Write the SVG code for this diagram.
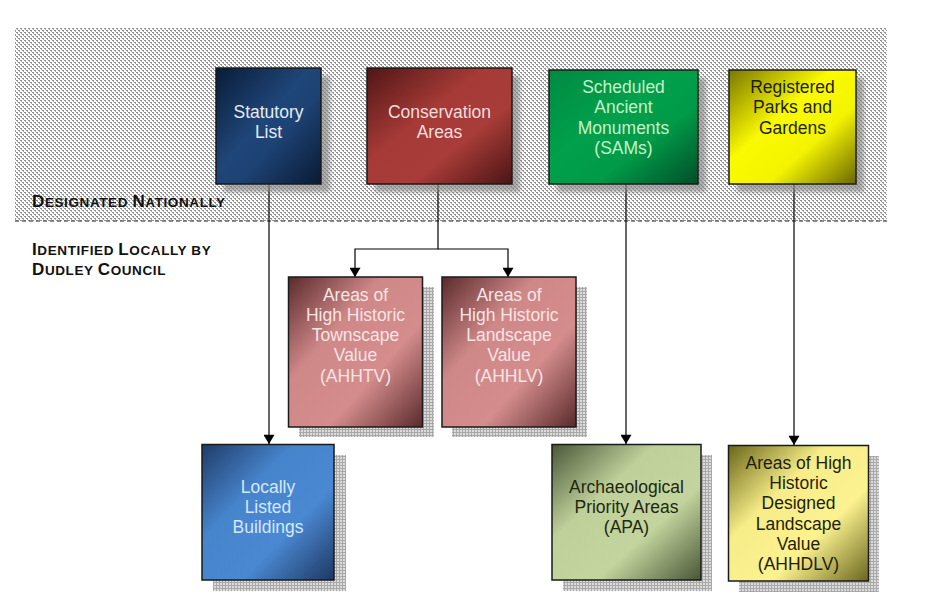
<svg xmlns="http://www.w3.org/2000/svg" width="940" height="612" viewBox="0 0 940 612">
<defs>
<style>
.lbl{font-family:"Liberation Sans",Arial,sans-serif;font-weight:bold;fill:#111;letter-spacing:0.6px}
.nt{font-family:"Liberation Sans",Arial,sans-serif;font-size:17.5px;text-anchor:middle}
.box{stroke:#1a1a1a;stroke-width:1.5}
.sh1{fill:#8a8a8a;opacity:0.7;filter:url(#blur)}
.sh2{fill:url(#grid)}
.conn{fill:none;stroke:#000;stroke-width:1.2}
</style>
<pattern id="dots" width="4" height="4" patternUnits="userSpaceOnUse">
<rect width="4" height="4" fill="#fff"/>
<rect x="0" y="0" width="2" height="1" fill="#8e8e8e"/>
<rect x="1" y="1" width="1" height="1" fill="#a4a4a4"/>
<rect x="2" y="2" width="2" height="1" fill="#8e8e8e"/>
<rect x="3" y="3" width="1" height="1" fill="#a4a4a4"/>
</pattern>
<pattern id="grid" width="3" height="3" patternUnits="userSpaceOnUse">
<rect width="3" height="3" fill="#dcdcdc"/>
<rect x="0" y="0" width="3" height="1" fill="#a8a8a8"/>
<rect x="0" y="0" width="1" height="3" fill="#a8a8a8"/>
</pattern>
<filter id="blur" x="-10%" y="-10%" width="120%" height="120%"><feGaussianBlur stdDeviation="2"/></filter>
<linearGradient id="gStat" x1="0" y1="0" x2="1" y2="1"><stop offset="0" stop-color="#0a1c38"/><stop offset="0.45" stop-color="#1f4679"/><stop offset="0.6" stop-color="#1d4274"/><stop offset="1" stop-color="#0a1a34"/></linearGradient>
<linearGradient id="gCons" x1="0" y1="0" x2="1" y2="1"><stop offset="0" stop-color="#501616"/><stop offset="0.4" stop-color="#a53a36"/><stop offset="0.65" stop-color="#a83c38"/><stop offset="1" stop-color="#4a1414"/></linearGradient>
<linearGradient id="gSam" x1="0" y1="0" x2="1" y2="1"><stop offset="0" stop-color="#008a42"/><stop offset="0.4" stop-color="#00a04c"/><stop offset="0.65" stop-color="#009a48"/><stop offset="1" stop-color="#004e28"/></linearGradient>
<linearGradient id="gReg" x1="0" y1="0" x2="1" y2="1"><stop offset="0" stop-color="#7a7800"/><stop offset="0.4" stop-color="#fafa00"/><stop offset="0.65" stop-color="#f4f400"/><stop offset="1" stop-color="#6a6800"/></linearGradient>
<linearGradient id="gPink" x1="0" y1="0" x2="1" y2="1"><stop offset="0" stop-color="#5a2a2c"/><stop offset="0.35" stop-color="#cf8888"/><stop offset="0.65" stop-color="#d48c8c"/><stop offset="1" stop-color="#5a2a2c"/></linearGradient>
<linearGradient id="gBlue" x1="0" y1="0" x2="1" y2="1"><stop offset="0" stop-color="#1f3c68"/><stop offset="0.35" stop-color="#4684cc"/><stop offset="0.65" stop-color="#4a88d2"/><stop offset="1" stop-color="#1e3862"/></linearGradient>
<linearGradient id="gApa" x1="0" y1="0" x2="1" y2="1"><stop offset="0" stop-color="#4a5838"/><stop offset="0.35" stop-color="#c0d09a"/><stop offset="0.65" stop-color="#c4d49e"/><stop offset="1" stop-color="#485636"/></linearGradient>
<linearGradient id="gYel" x1="0" y1="0" x2="1" y2="1"><stop offset="0" stop-color="#6a6618"/><stop offset="0.35" stop-color="#f6ec88"/><stop offset="0.65" stop-color="#fcf290"/><stop offset="1" stop-color="#6a661e"/></linearGradient>
<marker id="arr" viewBox="0 0 10 12" refX="10" refY="6" markerWidth="12" markerHeight="11" markerUnits="userSpaceOnUse" orient="auto"><path d="M0,0 L10,6 L0,12 z" fill="#000"/></marker>
</defs>

<g id="band">
<rect x="15" y="28" width="872" height="193" fill="url(#dots)"/>
<line x1="15" y1="221" x2="887" y2="221" stroke="#666" stroke-width="1.5" stroke-dasharray="4,3"/>
</g>

<g id="labels">
<text class="lbl" x="32" y="207"><tspan font-size="17">D</tspan><tspan font-size="13.5">ESIGNATED </tspan><tspan font-size="17">N</tspan><tspan font-size="13.5">ATIONALLY</tspan></text>
<text class="lbl" x="32" y="255"><tspan font-size="17">I</tspan><tspan font-size="13.5">DENTIFIED </tspan><tspan font-size="17">L</tspan><tspan font-size="13.5">OCALLY BY</tspan></text>
<text class="lbl" x="32" y="275"><tspan font-size="17">D</tspan><tspan font-size="13.5">UDLEY </tspan><tspan font-size="17">C</tspan><tspan font-size="13.5">OUNCIL</tspan></text>
</g>

<g id="connectors">
<line class="conn" x1="269" y1="184" x2="269" y2="444" marker-end="url(#arr)"/>
<polyline class="conn" points="438,184 438,249 355,249 355,277" marker-end="url(#arr)"/>
<polyline class="conn" points="438,249 508,249 508,277" marker-end="url(#arr)"/>
<line class="conn" x1="626" y1="184" x2="626" y2="444" marker-end="url(#arr)"/>
<line class="conn" x1="794" y1="184" x2="794" y2="445" marker-end="url(#arr)"/>
</g>

<g id="statutory-list">
<rect class="sh1" x="224" y="76" width="106" height="116"/>
<rect class="box" x="216" y="68" width="105" height="116" fill="url(#gStat)"/>
<text class="nt" fill="#e4ecf6" x="268.5" y="118">Statutory</text>
<text class="nt" fill="#e4ecf6" x="268.5" y="138">List</text>
</g>

<g id="conservation-areas">
<rect class="sh1" x="375" y="76" width="145" height="116"/>
<rect class="box" x="367" y="68" width="145" height="116" fill="url(#gCons)"/>
<text class="nt" fill="#f6dcdc" x="439.5" y="118">Conservation</text>
<text class="nt" fill="#f6dcdc" x="439.5" y="138">Areas</text>
</g>

<g id="scheduled-ancient-monuments">
<rect class="sh1" x="557" y="78" width="149" height="114"/>
<rect class="box" x="549" y="70" width="149" height="114" fill="url(#gSam)"/>
<text class="nt" fill="#c6f2c8" x="623.5" y="93">Scheduled</text>
<text class="nt" fill="#c6f2c8" x="623.5" y="113">Ancient</text>
<text class="nt" fill="#c6f2c8" x="623.5" y="134">Monuments</text>
<text class="nt" fill="#c6f2c8" x="623.5" y="154">(SAMs)</text>
</g>

<g id="registered-parks">
<rect class="sh1" x="737" y="78" width="127" height="114"/>
<rect class="box" x="729" y="70" width="127" height="114" fill="url(#gReg)"/>
<text class="nt" fill="#1e1e00" x="792.5" y="93">Registered</text>
<text class="nt" fill="#1e1e00" x="792.5" y="113">Parks and</text>
<text class="nt" fill="#1e1e00" x="792.5" y="134">Gardens</text>
</g>

<g id="ahhtv">
<rect class="sh2" x="299" y="287" width="135" height="150"/>
<rect class="box" x="288.5" y="277" width="134" height="150" fill="url(#gPink)"/>
<text class="nt" fill="#f8e4e4" x="355.5" y="301">Areas of</text>
<text class="nt" fill="#f8e4e4" x="355.5" y="321">High Historic</text>
<text class="nt" fill="#f8e4e4" x="355.5" y="341">Townscape</text>
<text class="nt" fill="#f8e4e4" x="355.5" y="361">Value</text>
<text class="nt" fill="#f8e4e4" x="355.5" y="382">(AHHTV)</text>
</g>

<g id="ahhlv">
<rect class="sh2" x="452" y="287" width="135" height="150"/>
<rect class="box" x="442" y="277" width="134" height="150" fill="url(#gPink)"/>
<text class="nt" fill="#f8e4e4" x="509" y="301">Areas of</text>
<text class="nt" fill="#f8e4e4" x="509" y="321">High Historic</text>
<text class="nt" fill="#f8e4e4" x="509" y="341">Landscape</text>
<text class="nt" fill="#f8e4e4" x="509" y="361">Value</text>
<text class="nt" fill="#f8e4e4" x="509" y="382">(AHHLV)</text>
</g>

<g id="locally-listed-buildings">
<rect class="sh2" x="213" y="455" width="133" height="136"/>
<rect class="box" x="202" y="444.5" width="132" height="135.5" fill="url(#gBlue)"/>
<text class="nt" fill="#d4e8ff" x="268" y="493">Locally</text>
<text class="nt" fill="#d4e8ff" x="268" y="513">Listed</text>
<text class="nt" fill="#d4e8ff" x="268" y="533">Buildings</text>
</g>

<g id="archaeological-priority-areas">
<rect class="sh2" x="563" y="455" width="149" height="136"/>
<rect class="box" x="552" y="444.5" width="149" height="135.5" fill="url(#gApa)"/>
<text class="nt" fill="#1e2810" x="626.5" y="493">Archaeological</text>
<text class="nt" fill="#1e2810" x="626.5" y="513">Priority Areas</text>
<text class="nt" fill="#1e2810" x="626.5" y="533">(APA)</text>
</g>

<g id="ahhdlv">
<rect class="sh2" x="739" y="456" width="140" height="136"/>
<rect class="box" x="728.5" y="445.5" width="140" height="135.5" fill="url(#gYel)"/>
<text class="nt" fill="#1e1e08" x="798.5" y="469">Areas of High</text>
<text class="nt" fill="#1e1e08" x="798.5" y="489">Historic</text>
<text class="nt" fill="#1e1e08" x="798.5" y="509">Designed</text>
<text class="nt" fill="#1e1e08" x="798.5" y="530">Landscape</text>
<text class="nt" fill="#1e1e08" x="798.5" y="550">Value</text>
<text class="nt" fill="#1e1e08" x="798.5" y="570">(AHHDLV)</text>
</g>
</svg>
